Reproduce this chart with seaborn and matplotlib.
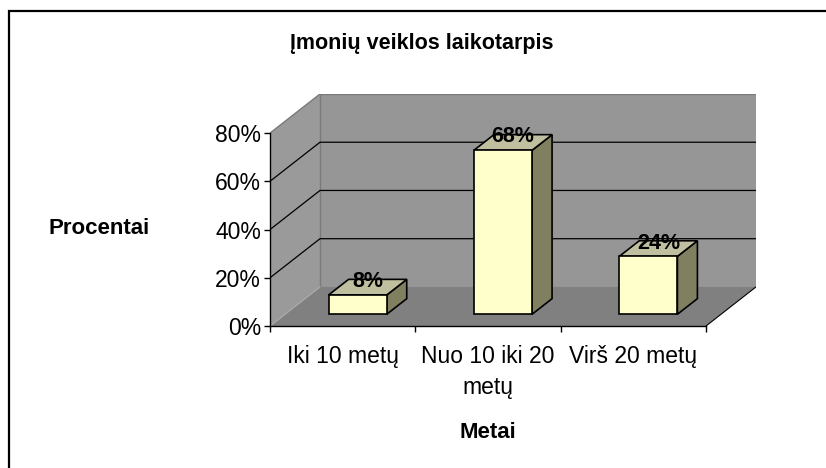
import pandas as pd
import matplotlib.pyplot as plt
import seaborn as sns
from matplotlib.patches import Polygon, Rectangle

# data
categories = ["Iki 10 metų", "Nuo 10 iki 20\nmetų", "Virš 20 metų"]
values = [0.08, 0.68, 0.24]
bar_labels = ["8%", "68%", "24%"]
ytick_values = [0.0, 0.2, 0.4, 0.6, 0.8]
ytick_labels = ["0%", "20%", "40%", "60%", "80%"]

title = "Įmonių veiklos laikotarpis"
xlabel = "Metai"
ylabel = "Procentai"

df = pd.DataFrame({"Metai": categories, "Procentai": values})

sns.set_theme(style="white")
plt.rcParams["font.family"] = ["Liberation Sans", "DejaVu Sans"]
plt.rcParams.update({"text.color": "black", "axes.labelcolor": "black",
                     "xtick.color": "black", "ytick.color": "black"})

# oblique "3D" offsets (data units) for the full depth of the plot box
DX = 0.344
DY = 0.162
D0, BD = 0.3, 0.4   # bar front depth and bar depth
YMAX = 0.8

fig = plt.figure(figsize=(8.26, 4.68), dpi=100)
ax = fig.add_axes([270 / 826, 142 / 468, 486 / 826, 232 / 468])
ax.set_facecolor("none")

# walls and floor
x0, x1 = -0.5, len(categories) - 0.5
wall = "#969696"
ax.add_patch(Polygon([(x0, 0), (x0 + DX, DY), (x0 + DX, YMAX + DY), (x0, YMAX)],
                     closed=True, facecolor="#9a9a9a", edgecolor="none", zorder=0.5))
ax.add_patch(Polygon([(x0 + DX, DY), (x1 + DX, DY), (x1 + DX, YMAX + DY), (x0 + DX, YMAX + DY)],
                     closed=True, facecolor=wall, edgecolor="none", zorder=0.5))
ax.add_patch(Polygon([(x0, 0), (x1, 0), (x1 + DX, DY), (x0 + DX, DY)],
                     closed=True, facecolor="#808080", edgecolor="none", zorder=0.6))
ax.plot([x0 + DX, x0 + DX, x1 + DX], [DY, YMAX + DY, YMAX + DY], color="#7a7a7a", lw=1, zorder=0.8)
ax.plot([x0, x0 + DX], [YMAX, YMAX + DY], color="#7a7a7a", lw=1, zorder=0.8)
ax.plot([x0, x0 + DX], [0, DY], color="#a8a8a8", lw=1, zorder=0.8)
ax.plot([x1, x1 + DX], [0, DY], color="black", lw=0.8, zorder=0.8)
for v in ytick_values[1:-1]:
    ax.plot([x0, x0 + DX, x1 + DX], [v, v + DY, v + DY], color="black", lw=0.9, zorder=1)

# bars: front faces from seaborn, then side and top faces
sns.barplot(data=df, x="Metai", y="Procentai", color="#FFFFCC", saturation=1,
            width=0.4, edgecolor="black", linewidth=1.2, ax=ax, zorder=5)
bars = list(ax.patches[3:])
for p, lab in zip(bars, bar_labels):
    bx = p.get_x() + D0 * DX
    bw = p.get_width()
    h = p.get_height()
    by = D0 * DY
    p.set_x(bx)
    p.set_y(by)
    ox, oy = BD * DX, BD * DY
    ax.add_patch(Polygon([(bx + bw, by), (bx + bw, by + h), (bx + bw + ox, by + h + oy), (bx + bw + ox, by + oy)],
                         closed=True, facecolor="#808060", edgecolor="black", lw=1.2, zorder=4))
    ax.add_patch(Polygon([(bx, by + h), (bx + bw, by + h), (bx + bw + ox, by + h + oy), (bx + ox, by + h + oy)],
                         closed=True, facecolor="#C0C0A0", edgecolor="black", lw=1.2, zorder=4))
    ax.text(bx + bw / 2 + ox / 2, by + h + oy / 2, lab, ha="center", va="baseline",
            fontsize=15.5, fontweight="bold", color="black", zorder=10)

ax.set_xlim(x0, x1 + DX)
ax.set_ylim(0, YMAX + DY)

# axes
for s in ["top", "right"]:
    ax.spines[s].set_visible(False)
ax.spines["left"].set_bounds(0, YMAX)
ax.spines["bottom"].set_bounds(x0, x1)
for s in ["left", "bottom"]:
    ax.spines[s].set_color("black")
    ax.spines[s].set_linewidth(1)
    ax.spines[s].set_zorder(2)

ax.set_yticks(ytick_values, labels=ytick_labels)
ax.set_xticks(range(len(categories)), labels=categories)
ax.set_xticks([x0 + i for i in range(len(categories) + 1)], minor=True)
ax.tick_params(axis="y", which="major", direction="out", length=4.5, width=1, color="black",
               pad=2, labelsize=16.5, left=True)
ax.tick_params(axis="x", which="major", length=0, pad=14, labelsize=16.5)
ax.tick_params(axis="x", which="minor", direction="out", length=4.5, width=1, color="black", bottom=True)
for t in ax.get_xticklabels():
    t.set_multialignment("center")
    t.set_linespacing(1.4)

ax.set_xlabel(xlabel, fontsize=16, fontweight="bold", va="center")
ax.set_ylabel(ylabel, fontsize=16, fontweight="bold", rotation=0, ha="center", va="center")
ax.xaxis.set_label_coords((488 - 270) / 486, (326 - 432) / 232)
ax.yaxis.set_label_coords((99 - 270) / 486, (326 - 229) / 232)

fig.text(422 / 826, 1 - 43 / 468, title, ha="center", va="center", fontsize=15.5, fontweight="bold")

# chart area border (extends past the right and bottom edges)
fig.patches.append(Rectangle((9 / 826, -0.5), 2.0, 1.5 - 11 / 468, transform=fig.transFigure,
                             fill=False, edgecolor="black", linewidth=1.6))

fig.savefig("out.png", dpi=100)
